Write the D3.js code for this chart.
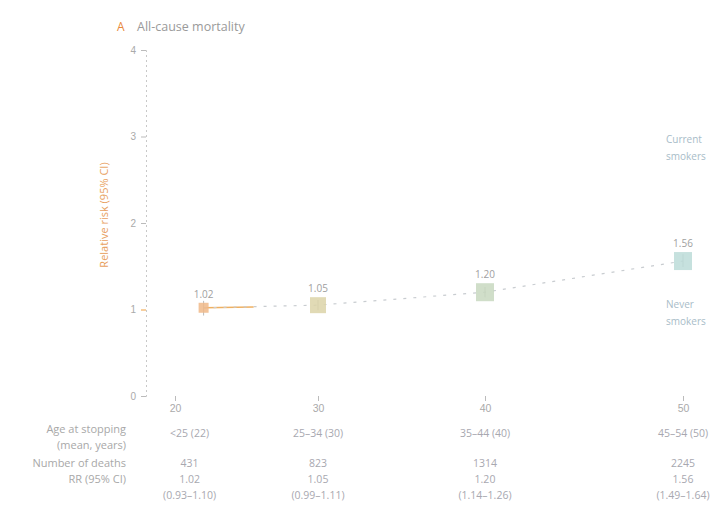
<!DOCTYPE html>
<html>
<head>
<meta charset="utf-8">
<script src="https://cdn.jsdelivr.net/npm/d3@7"></script>
<style>
  body { margin: 0; background: #fff; }
  svg { display: block; font-family: "Open Sans", "DejaVu Sans", sans-serif; }
</style>
</head>
<body>
<div id="chart"></div>
<script>
// Chart values
const ageGroups = ["<25 (22)", "25–34 (30)", "35–44 (40)", "45–54 (50)"];
const meanAges = [22, 30, 40, 50];
const deaths = ["431", "823", "1314", "2245"];
const rrValues = [1.02, 1.05, 1.20, 1.56];
const ciLow = [0.93, 0.99, 1.14, 1.49];
const ciHigh = [1.10, 1.11, 1.26, 1.64];
const squareSizes = [10, 16, 18, 18];
const xTicks = [20, 30, 40, 50];
const yTicks = [0, 1, 2, 3, 4];
const rowLabels = ["Age at stopping", "(mean, years)", "Number of deaths", "RR (95% CI)"];

const width = 713, height = 516;

const svg = d3.select("#chart")
  .append("svg")
  .attr("width", width)
  .attr("height", height);

// Scales
const x = d3.scaleLinear()
  .domain([20, 30, 40, 50])
  .range([175, 318, 485, 683]);

const y = d3.scaleLinear()
  .domain([0, 4])
  .range([396, 50]);

const fmt = d3.format(".2f");

// Title
svg.append("text")
  .attr("x", 117).attr("y", 31)
  .style("font-size", "12px")
  .style("fill", "#e8883a")
  .text("A");

svg.append("text")
  .attr("x", 137).attr("y", 31)
  .style("font-size", "12.5px")
  .style("fill", "#9a9a9a")
  .text("All-cause mortality");

// Y axis
const yAxis = svg.append("g")
  .attr("transform", "translate(146,0)")
  .call(d3.axisLeft(y).tickValues(yTicks).tickFormat(d3.format("d")).tickSize(5));

yAxis.select(".domain")
  .attr("stroke", "#c8c8c8")
  .attr("stroke-dasharray", "2,3");
yAxis.selectAll(".tick line")
  .attr("stroke", d => d === 1 ? "#f0a040" : "#bbb");
yAxis.selectAll(".tick text")
  .style("font-size", "10px")
  .style("fill", "#aaa")
  .attr("x", -10);

svg.append("text")
  .attr("transform", "rotate(-90)")
  .attr("x", -215)
  .attr("y", 108)
  .style("text-anchor", "middle")
  .style("font-size", "11px")
  .style("fill", "#e8a060")
  .text("Relative risk (95% CI)");

// X axis with fading colour
const grad = svg.append("defs").append("linearGradient")
  .attr("id", "axisGrad")
  .attr("x1", "0%").attr("x2", "100%");
grad.append("stop").attr("offset", "0%").attr("stop-color", "#e0b060");
grad.append("stop").attr("offset", "50%").attr("stop-color", "#d8c080");
grad.append("stop").attr("offset", "100%").attr("stop-color", "#a8c8d8");

const xAxis = svg.append("g")
  .attr("transform", `translate(0,${y(0)})`)
  .call(d3.axisBottom(x).tickValues(xTicks).tickFormat(d3.format("d")).tickSize(5).tickSizeOuter(0));

xAxis.select(".domain").remove();
xAxis.insert("line", ":first-child")
  .attr("x1", 146).attr("x2", width)
  .attr("y1", 0).attr("y2", 0)
  .attr("stroke", "url(#axisGrad)")
  .attr("stroke-width", 1.5);
xAxis.selectAll(".tick line").attr("stroke", "#bbb");
xAxis.selectAll(".tick text")
  .style("font-size", "10.5px")
  .style("fill", "#aaa")
  .attr("y", 9);

// Connecting lines
const pts = meanAges.map((a, i) => ({ age: a, rr: rrValues[i], lo: ciLow[i], hi: ciHigh[i], size: squareSizes[i] }));

svg.append("line")
  .attr("x1", x(pts[0].age)).attr("y1", y(pts[0].rr))
  .attr("x2", x(25.5)).attr("y2", y(1.03))
  .attr("stroke", "#f0b060")
  .attr("stroke-width", 1.5);

svg.append("path")
  .datum(pts)
  .attr("fill", "none")
  .attr("stroke", "#c8ccd0")
  .attr("stroke-width", 1.2)
  .attr("stroke-dasharray", "3,7")
  .attr("d", d3.line().x(d => x(d.age)).y(d => y(d.rr)));

// Error bars
svg.selectAll(".ci")
  .data(pts)
  .enter()
  .append("line")
  .attr("class", "ci")
  .attr("x1", d => x(d.age)).attr("x2", d => x(d.age))
  .attr("y1", d => y(d.lo)).attr("y2", d => y(d.hi))
  .attr("stroke", "#bbb");

// Squares
const squareColors = ["#f0b888", "#dcd4a8", "#c8d8c0", "#bcdcd8"];
svg.selectAll(".pt")
  .data(pts)
  .enter()
  .append("rect")
  .attr("class", "pt")
  .attr("x", d => x(d.age) - d.size / 2)
  .attr("y", d => y(d.rr) - d.size / 2)
  .attr("width", d => d.size)
  .attr("height", d => d.size)
  .attr("fill", (d, i) => squareColors[i])
  .attr("opacity", 0.85);

// Value labels
svg.selectAll(".val")
  .data(pts)
  .enter()
  .append("text")
  .attr("class", "val")
  .attr("x", d => x(d.age))
  .attr("y", d => y(d.rr) - d.size / 2 - 5)
  .style("text-anchor", "middle")
  .style("font-size", "10px")
  .style("fill", "#a0a0a0")
  .text(d => fmt(d.rr));

// Reference group labels
[["Current", "smokers", 2.9], ["Never", "smokers", 1.0]].forEach(([a, b, v]) => {
  const t = svg.append("text")
    .attr("y", y(v) - 2)
    .style("font-size", "10px")
    .style("fill", "#a8bcc8");
  t.append("tspan").attr("x", 666).text(a);
  t.append("tspan").attr("x", 666).attr("dy", 17).text(b);
});

// Table rows
const rowY = [433, 449, 467, 483];
svg.selectAll(".rowlab")
  .data(rowLabels)
  .enter()
  .append("text")
  .attr("class", "rowlab")
  .attr("x", 126)
  .attr("y", (d, i) => rowY[i])
  .style("text-anchor", "end")
  .style("font-size", "11px")
  .style("fill", "#a8a8a8")
  .text(d => d);

const cols = meanAges.map((a, i) => ({
  age: a,
  lines: [
    { y: 437, t: ageGroups[i] },
    { y: 467, t: deaths[i] },
    { y: 483, t: fmt(rrValues[i]) },
    { y: 499, t: `(${fmt(ciLow[i])}–${fmt(ciHigh[i])})` }
  ]
}));

cols.forEach((c, i) => {
  svg.selectAll(`.col${i}`)
    .data(c.lines)
    .enter()
    .append("text")
    .attr("x", x(c.age) - (i === 0 ? 14 : 0))
    .attr("y", d => d.y)
    .style("text-anchor", "middle")
    .style("font-size", "10.5px")
    .style("fill", "#a8a8b0")
    .text(d => d.t);
});
</script>
</body>
</html>
